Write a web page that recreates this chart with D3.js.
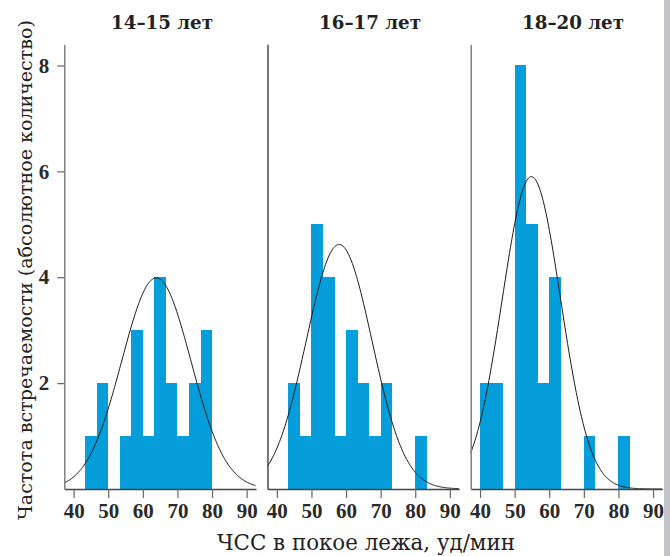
<!DOCTYPE html>
<html><head><meta charset="utf-8">
<script src="https://cdn.jsdelivr.net/npm/d3@7"></script>
<style>body{margin:0;background:#fff} svg{display:block}</style>
</head><body>
<svg id="c" width="670" height="556"></svg>
<script>
// ---- data ----
const panelTitles = ["14–15 лет", "16–17 лет", "18–20 лет"];
const binStarts = [40, 43.333, 46.667, 50, 53.333, 56.667, 60, 63.333, 66.667, 70, 73.333, 76.667, 80];
const binWidth = 10 / 3;
const counts1 = [0, 1, 2, 0, 1, 3, 1, 4, 2, 1, 2, 3, 0];
const counts2 = [0, 2, 1, 5, 4, 1, 3, 2, 1, 2, 0, 0, 1];
const counts3 = [2, 2, 0, 8, 5, 2, 4, 0, 0, 1, 0, 0, 1];
const curveMean = [63.9, 58.0, 54.85];
const curveSD = [10.0, 9.5, 8.45];
const sampleN = [20, 22, 25];
const curveBinWidth = 5;
const xTicks = [40, 50, 60, 70, 80, 90];
const yTicks = [2, 4, 6, 8];
const xLabel = "ЧСС в покое лежа, уд/мин";
const yLabel = "Частота встречаемости (абсолютное количество)";

const allCounts = [counts1, counts2, counts3];

// ---- layout ----
const svg = d3.select("#c");
const W = 670, H = 556;
const panelX0 = 64.3, panelStep = 203.2, panelW = 191.7;
const yBottom = 489, yTop = 44.3;
const xDomain = [37.3, 92.7];
const barColor = "#069ddb";
const font = "'DejaVu Serif', serif";
const tickFont = "'Liberation Serif', 'DejaVu Serif', serif";

const y = d3.scaleLinear().domain([0, 8.4]).range([yBottom, yTop]);

function fitText(sel, targetW) {
  const node = sel.node();
  const fs = parseFloat(sel.attr("font-size"));
  const w = node.getComputedTextLength();
  if (w > 0) sel.attr("font-size", (fs * targetW / w).toFixed(2));
}

const titleCenters = [162, 370, 573];

allCounts.forEach((counts, i) => {
  const x0 = panelX0 + i * panelStep;
  const x = d3.scaleLinear().domain(xDomain).range([x0, x0 + panelW]);
  const g = svg.append("g");

  // bars
  g.selectAll("rect.bar")
    .data(binStarts.map((b, k) => ({ b, c: counts[k] })).filter(d => d.c > 0))
    .enter().append("rect")
    .attr("x", d => x(d.b))
    .attr("width", d => x(d.b + binWidth) - x(d.b))
    .attr("y", d => y(d.c))
    .attr("height", d => y(0) - y(d.c))
    .attr("fill", barColor)
    .attr("shape-rendering", "crispEdges");

  // normal curve
  const mu = curveMean[i], sd = curveSD[i], n = sampleN[i];
  const xs = d3.range(xDomain[0], xDomain[1] + 0.001, 0.25);
  const pts = xs.map(v => [v, n * curveBinWidth * Math.exp(-0.5 * ((v - mu) / sd) ** 2) / (sd * Math.sqrt(2 * Math.PI))]);
  g.append("path")
    .attr("d", d3.line().x(d => x(d[0])).y(d => y(d[1])).curve(d3.curveBasis)(pts))
    .attr("fill", "none").attr("stroke", "#1a1a1a").attr("stroke-width", 1);

  // x axis
  const xa = g.append("g").attr("transform", `translate(0,${yBottom})`)
    .call(d3.axisBottom(x).tickValues(xTicks).tickSize(9).tickSizeOuter(0).tickPadding(5));
  xa.select(".domain").attr("stroke", "#444").attr("stroke-width", 1.3);
  xa.selectAll(".tick line").attr("stroke", "#666").attr("stroke-width", 1.2);
  xa.selectAll(".tick text").attr("font-family", tickFont).attr("font-size", 21)
    .attr("font-weight", "bold").attr("fill", "#2a2a2a");

  // y axis line
  const ya = g.append("g").attr("transform", `translate(${x0},0)`)
    .call(d3.axisLeft(y).tickValues(i === 0 ? yTicks : []).tickSize(i === 0 ? 7 : 0).tickSizeOuter(0).tickPadding(8));
  ya.select(".domain").attr("stroke", i === 1 ? "#222" : "#808080").attr("stroke-width", i === 1 ? 1.2 : 1.5);
  ya.selectAll(".tick line").attr("stroke", "#666").attr("stroke-width", 1.2);
  ya.selectAll(".tick text").attr("font-family", tickFont).attr("font-size", 21)
    .attr("font-weight", "bold").attr("fill", "#2a2a2a");

  // title
  const t = svg.append("text")
    .attr("x", titleCenters[i]).attr("y", 28.5)
    .attr("text-anchor", "middle")
    .attr("font-family", font).attr("font-weight", "bold").attr("font-size", 18)
    .attr("fill", "#222").text(panelTitles[i]);
  fitText(t, 102);
});

// axis titles
const xt = svg.append("text").attr("x", 366).attr("y", 550)
  .attr("text-anchor", "middle").attr("font-family", font).attr("font-size", 16)
  .attr("fill", "#222").text(xLabel);
fitText(xt, 298);

const yt = svg.append("text").attr("transform", "translate(32,270) rotate(-90)")
  .attr("text-anchor", "middle").attr("font-family", font).attr("font-size", 16)
  .attr("fill", "#222").text(yLabel);
fitText(yt, 500);

// page edge shading at right
svg.append("rect").attr("x", 664).attr("y", 0).attr("width", 6).attr("height", H).attr("fill", "#c4c4c8");
</script>
</body></html>
